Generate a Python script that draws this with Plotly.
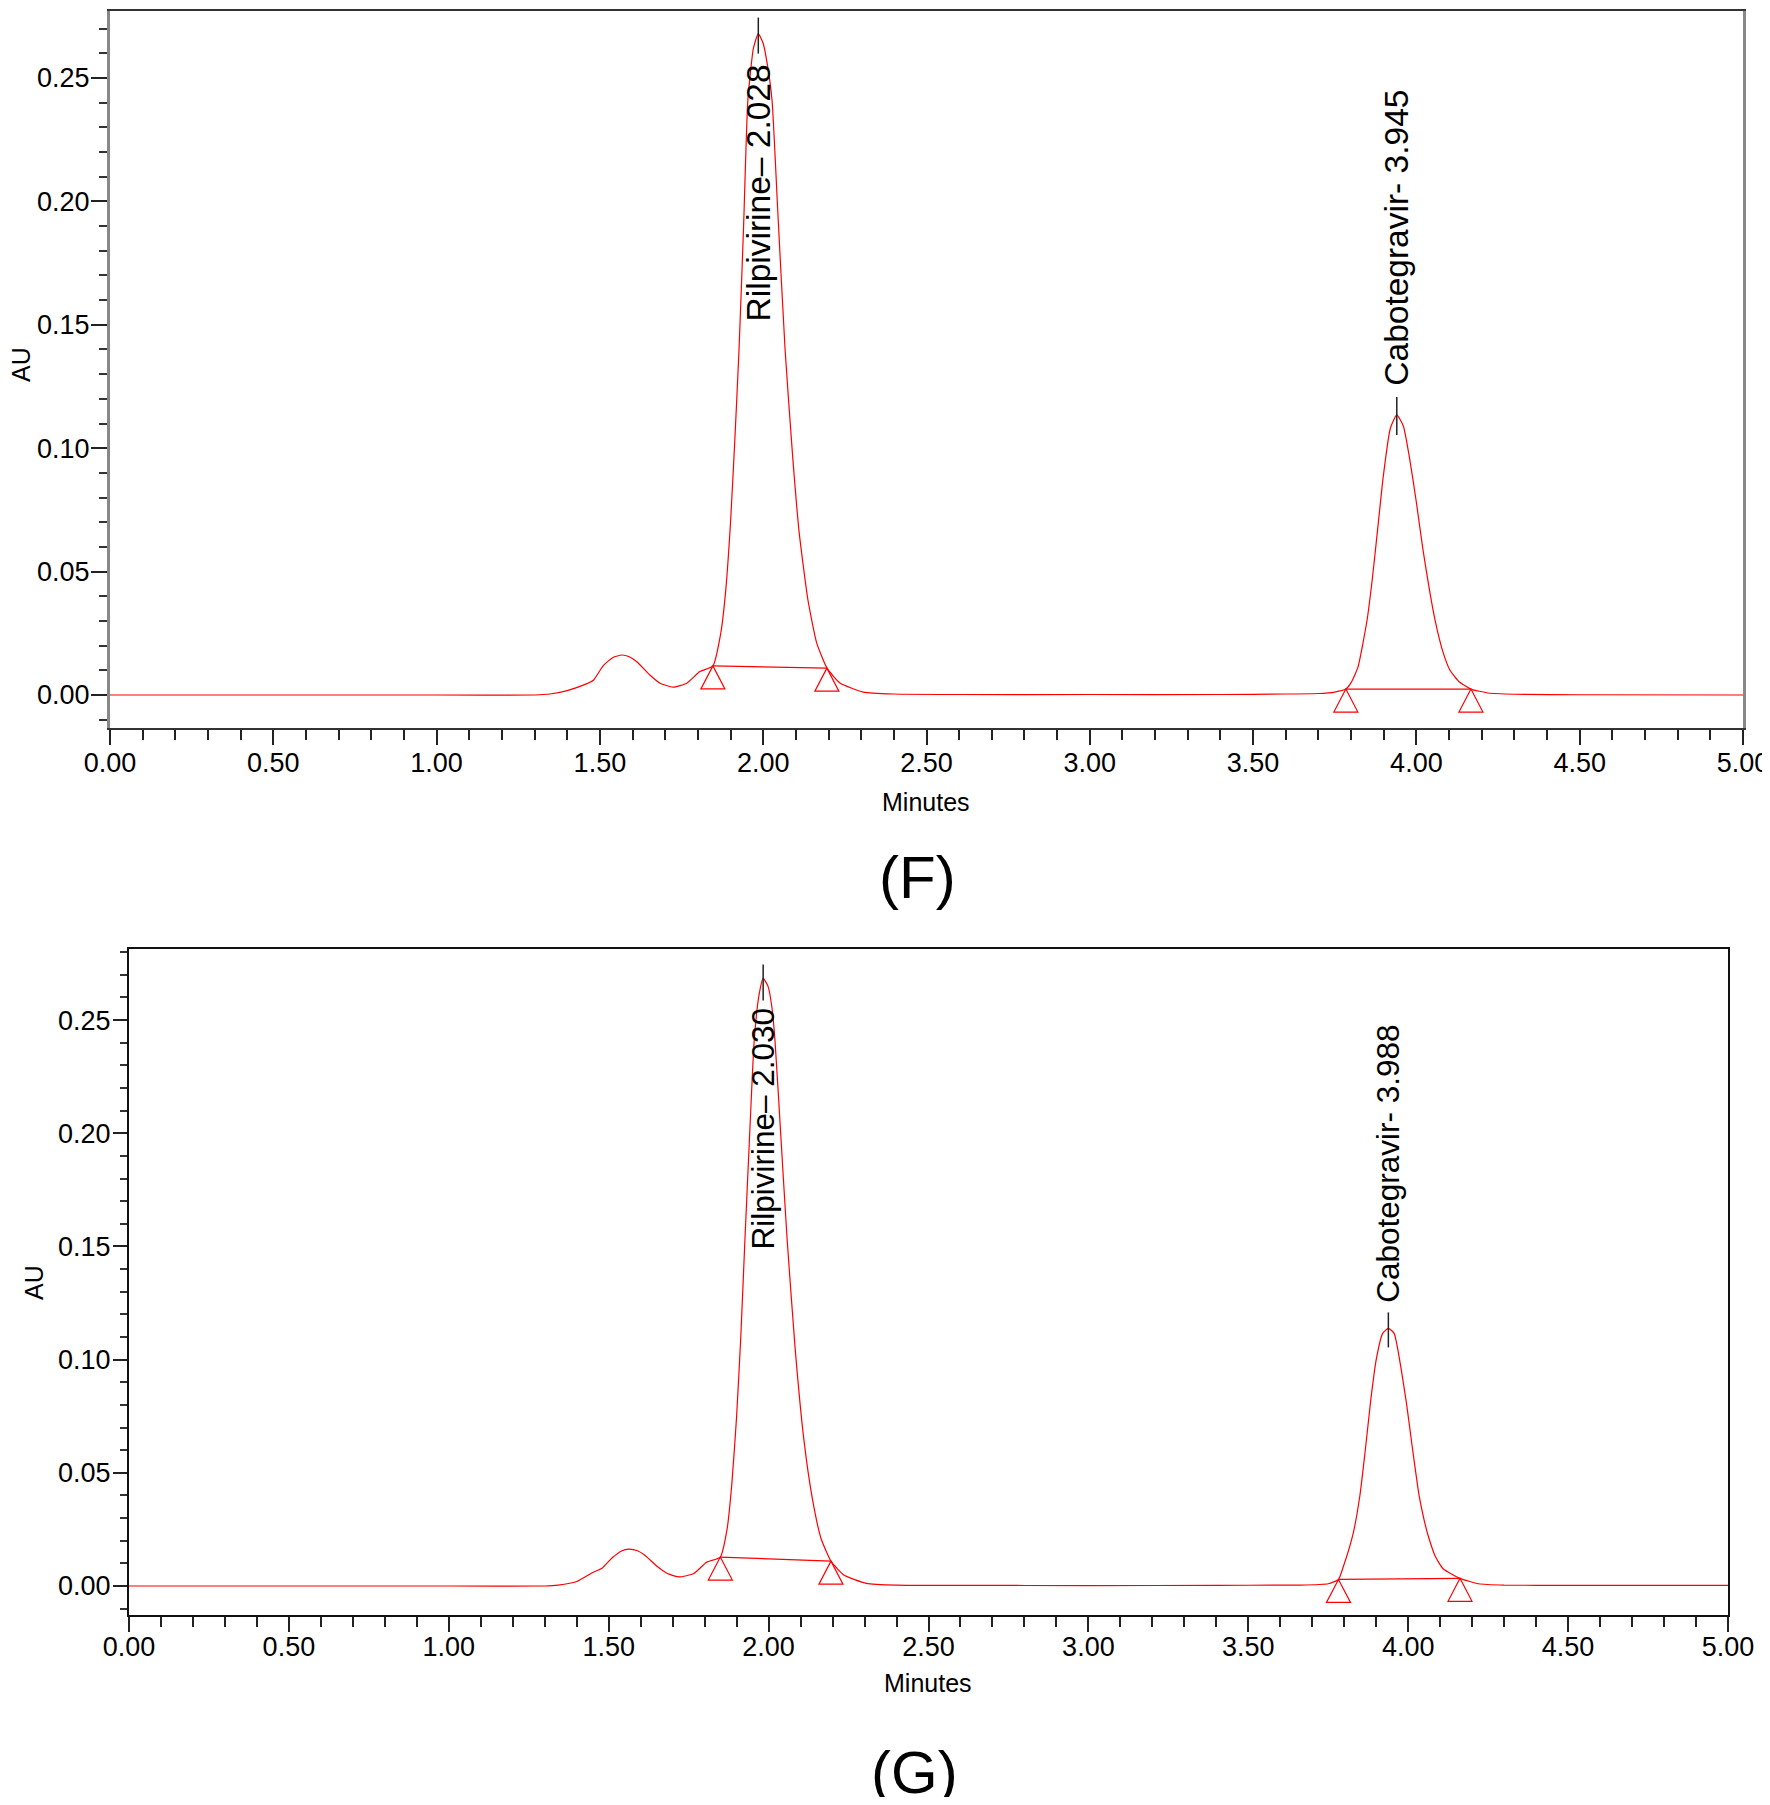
import plotly.graph_objects as go

# ---------------- data ----------------
# Panel (F)
time_F = [0.00, 0.50, 1.00, 1.30, 1.347, 1.40, 1.449, 1.480, 1.511, 1.540, 1.567, 1.590,
          1.613, 1.653, 1.684, 1.724, 1.766, 1.806, 1.846, 1.870, 1.885, 1.900, 1.913,
          1.926, 1.940, 1.953, 1.970, 1.985, 2.000, 2.012, 2.027, 2.045, 2.067, 2.090,
          2.110, 2.137, 2.164, 2.195, 2.235, 2.306, 2.400, 2.600, 3.000, 3.400, 3.600,
          3.700, 3.750, 3.784, 3.800, 3.821, 3.849, 3.865, 3.882, 3.898, 3.920, 3.940,
          3.960, 3.980, 4.000, 4.020, 4.057, 4.080, 4.103, 4.130, 4.167, 4.220, 4.300,
          4.500, 5.000]
au_F = [0.0000, 0.0000, 0.0000, 0.0000, 0.0004, 0.0018, 0.0040, 0.0060, 0.0120, 0.0152,
        0.0162, 0.0155, 0.0135, 0.0081, 0.0048, 0.0032, 0.0048, 0.0095, 0.0118, 0.0250,
        0.0420, 0.0700, 0.1030, 0.1400, 0.1900, 0.2410, 0.2620, 0.2680, 0.2640, 0.2560,
        0.2410, 0.1950, 0.1400, 0.0970, 0.0660, 0.0385, 0.0210, 0.0110, 0.0049, 0.0012,
        0.0004, 0.0002, 0.0002, 0.0002, 0.0004, 0.0006, 0.0012, 0.0024, 0.0050, 0.0113,
        0.0304, 0.0470, 0.0680, 0.0880, 0.1080, 0.1135, 0.1090, 0.0952, 0.0780, 0.0590,
        0.0304, 0.0180, 0.0100, 0.0055, 0.0024, 0.0008, 0.0003, 0.0001, 0.0000]

# Panel (G)
time_G = [0.00, 0.50, 1.00, 1.30, 1.342, 1.40, 1.450, 1.480, 1.511, 1.540, 1.563, 1.590,
          1.613, 1.653, 1.684, 1.720, 1.766, 1.806, 1.849, 1.870, 1.885, 1.900, 1.913,
          1.926, 1.940, 1.955, 1.970, 1.983, 1.998, 2.010, 2.020, 2.039, 2.058, 2.083,
          2.110, 2.137, 2.164, 2.195, 2.235, 2.306, 2.400, 2.600, 3.000, 3.400, 3.600,
          3.662, 3.750, 3.782, 3.797, 3.828, 3.849, 3.865, 3.883, 3.900, 3.920, 3.938,
          3.956, 3.993, 4.014, 4.034, 4.050, 4.063, 4.085, 4.110, 4.162, 4.220, 4.300,
          4.500, 5.000]
au_G = [0.0000, 0.0000, 0.0000, 0.0000, 0.0004, 0.0020, 0.0060, 0.0080, 0.0125, 0.0155,
        0.0163, 0.0156, 0.0136, 0.0085, 0.0055, 0.0040, 0.0055, 0.0105, 0.0128, 0.0250,
        0.0450, 0.0750, 0.1100, 0.1530, 0.1970, 0.2410, 0.2610, 0.2684, 0.2650, 0.2560,
        0.2410, 0.1970, 0.1530, 0.1050, 0.0650, 0.0385, 0.0210, 0.0110, 0.0049, 0.0012,
        0.0004, 0.0003, 0.0002, 0.0003, 0.0004, 0.0004, 0.0010, 0.0029, 0.0085, 0.0233,
        0.0400, 0.0590, 0.0822, 0.1000, 0.1116, 0.1138, 0.1116, 0.0822, 0.0600, 0.0400,
        0.0290, 0.0220, 0.0130, 0.0075, 0.0034, 0.0010, 0.0004, 0.0003, 0.0003]

# Integration baselines: (start time, start AU, end time, end AU)
base_F = [(1.846, 0.0118, 2.195, 0.0109), (3.784, 0.0024, 4.167, 0.0024)]
base_G = [(1.849, 0.0128, 2.195, 0.0110), (3.782, 0.0029, 4.162, 0.0034)]

# Peak labels: (apex time, apex AU, label)
peaks_F = [(1.985, 0.2680, "Rilpivirine\u2013 2.028"), (3.940, 0.1135, "Cabotegravir- 3.945")]
peaks_G = [(1.983, 0.2684, "Rilpivirine\u2013 2.030"), (3.938, 0.1138, "Cabotegravir- 3.988")]

x_ticks = [0.0, 0.5, 1.0, 1.5, 2.0, 2.5, 3.0, 3.5, 4.0, 4.5, 5.0]
y_ticks = [0.00, 0.05, 0.10, 0.15, 0.20, 0.25]

# ---------------- figure ----------------
# the page body adds an 8 px offset, so the figure is laid out in (reference px - 8)
OFF = 8
W, H = 1770, 1805 - 2 * OFF
FONT = "Liberation Sans, Arial, sans-serif"
RED = "rgb(255,0,0)"


def fx(px):
    return (px - OFF) / W


def fy(py):
    return 1 - (py - OFF) / H


fig = go.Figure()

panels = [
    dict(t=time_F, v=au_F, base=base_F, peaks=peaks_F, xa="x", ya="y",
         label_size=33.5, label_pos=[("top", -29), ("bottom", 27)],
         tick_pos=[(-20, 16), (-20, 18)]),
    dict(t=time_G, v=au_G, base=base_G, peaks=peaks_G, xa="x2", ya="y2",
         label_size=31.5, label_pos=[("top", -27), ("bottom", 24)],
         tick_pos=[(-22, 14), (-19, 16)]),
]

shapes = []
annotations = []
for p in panels:
    fig.add_trace(go.Scatter(x=p["t"], y=p["v"], mode="lines", xaxis=p["xa"], yaxis=p["ya"],
                             line=dict(color=RED, width=1.2, shape="spline", smoothing=0.5),
                             showlegend=False, hoverinfo="skip"))
    for (t0, v0, t1, v1) in p["base"]:
        fig.add_trace(go.Scatter(x=[t0, t1], y=[v0, v1], mode="lines", xaxis=p["xa"], yaxis=p["ya"],
                                 line=dict(color=RED, width=1.2), showlegend=False, hoverinfo="skip"))
        for (tt, vv) in [(t0, v0), (t1, v1)]:
            shapes.append(dict(type="path", xref=p["xa"], yref=p["ya"],
                               xsizemode="pixel", ysizemode="pixel", xanchor=tt, yanchor=vv,
                               path="M0,0 L-12,-23 L12,-23 Z",
                               line=dict(color=RED, width=1.2), fillcolor="rgba(0,0,0,0)"))
    for i, (ta, va, lab) in enumerate(p["peaks"]):
        anc, shift = p["label_pos"][i]
        annotations.append(dict(x=ta, y=va, xref=p["xa"], yref=p["ya"], text=lab, showarrow=False,
                                textangle=-90, xanchor="center", yanchor=anc, yshift=shift,
                                font=dict(family=FONT, size=p["label_size"], color="black")))
        lo, hi = p["tick_pos"][i]
        shapes.append(dict(type="line", xref=p["xa"], yref=p["ya"], x0=ta, x1=ta,
                           ysizemode="pixel", yanchor=va, y0=lo, y1=hi,
                           line=dict(color="#222222", width=1.5)))

fig.update_layout(shapes=shapes, annotations=annotations)


def xax(domain, anchor, lc, tl, so):
    return dict(domain=domain, anchor=anchor, range=[0, 5], tickvals=x_ticks, tickformat=".2f",
                showline=True, linecolor=lc, linewidth=2, mirror=True, automargin=False,
                ticks="outside", ticklen=tl, tickwidth=2, tickcolor="#222222",
                ticklabelstandoff=so, ticklabeloverflow="allow",
                minor=dict(dtick=0.1, tick0=0, ticks="outside", ticklen=10, tickwidth=1.5,
                           tickcolor="#222222"),
                tickfont=dict(family=FONT, size=27, color="black"),
                showgrid=False, zeroline=False, fixedrange=True)


def yax(domain, anchor, rng, lc, lw, tl, mtl, so):
    return dict(domain=domain, anchor=anchor, range=rng, tickvals=y_ticks, tickformat=".2f",
                showline=True, linecolor=lc, linewidth=lw, mirror=True, automargin=False,
                ticks="outside", ticklen=tl, tickwidth=2, tickcolor="#222222",
                ticklabelstandoff=so, ticklabeloverflow="allow",
                minor=dict(dtick=0.01, tick0=0, ticks="outside", ticklen=mtl, tickwidth=1.5,
                           tickcolor="#333333"),
                tickfont=dict(family=FONT, size=27, color="black"),
                showgrid=False, zeroline=False, fixedrange=True)


fig.update_layout(
    width=W, height=H, autosize=False,
    margin=dict(l=0, r=0, t=0, b=0, pad=0),
    paper_bgcolor="white", plot_bgcolor="white",
    xaxis=xax([fx(110), fx(1743)], "y", "#333333", 15, -5),
    yaxis=yax([fy(728), 1 - 3 / H], "x", [-0.01337, 0.27715], "#888888", 3, 16, 8, -4),
    xaxis2=xax([fx(129), fx(1728)], "y2", "#111111", 15, -8),
    yaxis2=yax([fy(1615), fy(949)], "x2", [-0.0128, 0.2814], "#111111", 2, 14, 7, -3),
)

texts = [
    ("Minutes", 926, 802, 0, 25),
    ("AU", 21, 365, -90, 25),
    ("(F)", 917, 877, 0, 60),
    ("Minutes", 928, 1683, 0, 25),
    ("AU", 34, 1283, -90, 25),
    ("(G)", 914, 1772, 0, 60),
]
for (txt, px, py, ang, sz) in texts:
    fig.add_annotation(x=fx(px), y=fy(py), xref="paper", yref="paper", text=txt, showarrow=False,
                       textangle=ang, xanchor="center", yanchor="middle",
                       font=dict(family=FONT, size=sz, color="black"))

fig.write_html("out.html")
